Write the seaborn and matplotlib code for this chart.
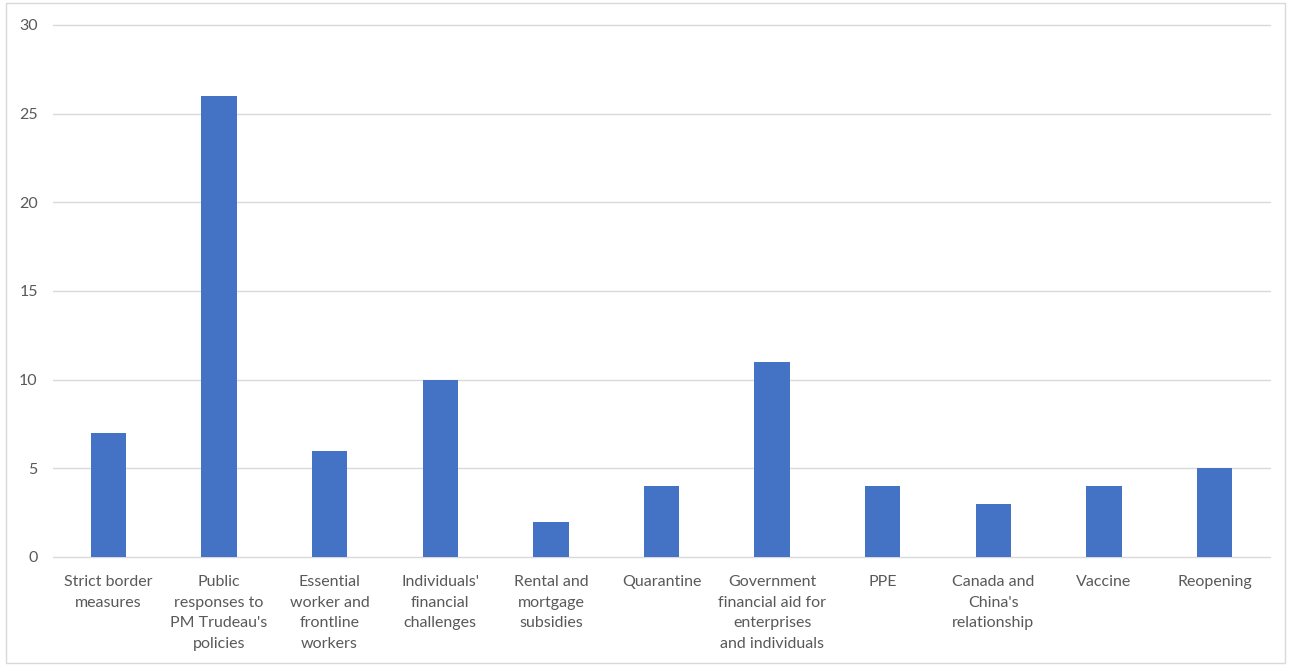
import matplotlib
matplotlib.use("Agg")
import matplotlib.pyplot as plt
import seaborn as sns
import pandas as pd
from matplotlib.patches import Rectangle

categories = [
    "Strict border\nmeasures",
    "Public\nresponses to\nPM Trudeau's\npolicies",
    "Essential\nworker and\nfrontline\nworkers",
    "Individuals'\nfinancial\nchallenges",
    "Rental and\nmortgage\nsubsidies",
    "Quarantine",
    "Government\nfinancial aid for\nenterprises\nand individuals",
    "PPE",
    "Canada and\nChina's\nrelationship",
    "Vaccine",
    "Reopening",
]
values = [7, 26, 6, 10, 2, 4, 11, 4, 3, 4, 5]
yticks = [0, 5, 10, 15, 20, 25, 30]

sns.set_theme(style="white")
plt.rcParams['font.family'] = ['Lato', 'DejaVu Sans']

df = pd.DataFrame({"cat": categories, "val": values})

fig = plt.figure(figsize=(12.89, 6.66), dpi=100)
ax = fig.add_axes([53/1289, 1-557/666, (1270-53)/1289, (557-25)/666])
sns.barplot(data=df, x="cat", y="val", color="#4472C4", width=0.32,
            saturation=1, linewidth=0, ax=ax, zorder=3)
ax.set_xlim(-0.5, len(categories)-0.5)
ax.set_ylim(0, 30)
ax.set_yticks(yticks)
ax.set_yticklabels([str(t) for t in yticks])
ax.grid(axis="y", color="#D9D9D9", linewidth=1, zorder=0)
ax.grid(axis="x", visible=False)
for gl in ax.get_ygridlines():
    gl.set_clip_on(False)
for s in ax.spines.values():
    s.set_visible(False)
ax.set_xlabel("")
ax.set_ylabel("")
ax.tick_params(axis="both", length=0, colors="#595959", labelsize=11.5)
ax.tick_params(axis="y", pad=11)
ax.tick_params(axis="x", pad=13)
for lab in ax.get_xticklabels():
    lab.set_linespacing(1.6)
fig.patches.append(Rectangle((6/1289, 3/666), 1279/1289, 660/666,
                             transform=fig.transFigure, fill=False,
                             edgecolor="#D9D9D9", linewidth=1))
fig.savefig("out.png", dpi=100)
